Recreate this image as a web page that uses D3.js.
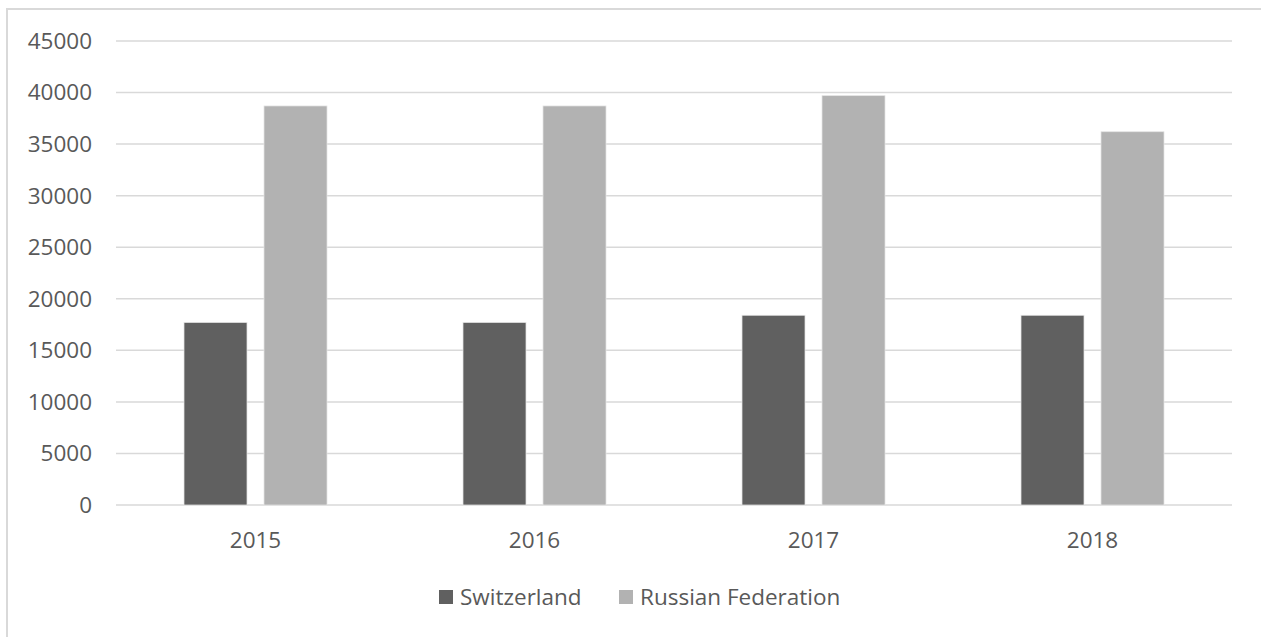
<!DOCTYPE html>
<html>
<head>
<meta charset="utf-8">
<script src="https://cdn.jsdelivr.net/npm/d3@7"></script>
<style>
  body { margin: 0; background: #fff; }
  text { font-family: "Open Sans", sans-serif; fill: #595959; }
</style>
</head>
<body>
<svg id="chart" width="1261" height="637"></svg>
<script>
// chart data
const years = ["2015", "2016", "2017", "2018"];
const seriesNames = ["Switzerland", "Russian Federation"];
const switzerland = [17700, 17700, 18400, 18400];
const russia = [38700, 38700, 39700, 36200];
const yTicks = [0, 5000, 10000, 15000, 20000, 25000, 30000, 35000, 40000, 45000];
const colors = ["#606060", "#b2b2b2"];

const svg = d3.select("#chart");
const margin = { top: 41, right: 29, bottom: 132, left: 116 },
    width = 1261 - margin.left - margin.right,
    height = 637 - margin.top - margin.bottom;
const fontSize = "22.5px";

// outer frame
svg.append("rect")
    .attr("x", 7).attr("y", 9)
    .attr("width", 1300).attr("height", 700)
    .attr("fill", "none")
    .attr("stroke", "#d9d9d9")
    .attr("stroke-width", 2);

const g = svg.append("g")
    .attr("transform", "translate(" + margin.left + "," + margin.top + ")");

const data = years.map((y, i) => ({ year: y, values: [switzerland[i], russia[i]] }));

const x0 = d3.scaleBand().domain(years).range([0, width]);
const x1 = d3.scaleBand().domain(seriesNames)
    .range([0, x0.bandwidth()])
    .paddingInner(0.2125)
    .paddingOuter(0.85);
const y = d3.scaleLinear().domain([0, 45000]).range([height, 0]);

// gridlines
g.selectAll(".grid")
    .data(yTicks)
    .enter()
    .append("line")
    .attr("x1", 0).attr("x2", width)
    .attr("y1", d => y(d)).attr("y2", d => y(d))
    .attr("stroke", "#d9d9d9")
    .attr("stroke-width", 1.5);

// y labels
g.selectAll(".ylab")
    .data(yTicks)
    .enter()
    .append("text")
    .attr("x", -24)
    .attr("y", d => y(d))
    .attr("dy", "0.35em")
    .attr("text-anchor", "end")
    .style("font-size", fontSize)
    .text(d => d);

// bars
const groups = g.selectAll(".year")
    .data(data)
    .enter()
    .append("g")
    .attr("transform", d => "translate(" + x0(d.year) + ",0)");

groups.selectAll("rect")
    .data(d => d.values.map((v, i) => ({ key: seriesNames[i], value: v, i })))
    .enter()
    .append("rect")
    .attr("x", d => x1(d.key))
    .attr("y", d => y(d.value))
    .attr("width", x1.bandwidth())
    .attr("height", d => height - y(d.value))
    .attr("fill", d => colors[d.i])
    .attr("stroke", "#e4e4e4")
    .attr("stroke-width", 0.75);

// x labels
g.selectAll(".xlab")
    .data(years)
    .enter()
    .append("text")
    .attr("x", d => x0(d) + x0.bandwidth() / 2)
    .attr("y", height + 35)
    .attr("dy", "0.35em")
    .attr("text-anchor", "middle")
    .style("font-size", fontSize)
    .text(d => d);

// legend
const legendX = [439, 619];
const legend = svg.selectAll(".legend")
    .data(seriesNames)
    .enter()
    .append("g")
    .attr("transform", (d, i) => "translate(" + legendX[i] + ",597)");

legend.append("rect")
    .attr("x", 0).attr("y", -7)
    .attr("width", 14).attr("height", 14)
    .attr("fill", (d, i) => colors[i]);

legend.append("text")
    .attr("x", 21)
    .attr("y", 0)
    .attr("dy", "0.35em")
    .style("font-size", fontSize)
    .text(d => d);
</script>
</body>
</html>
